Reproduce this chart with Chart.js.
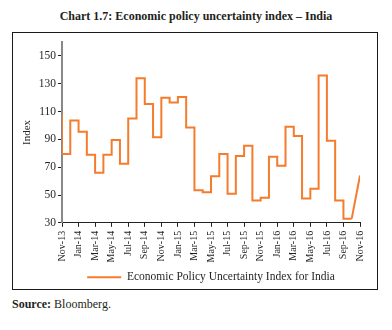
<!DOCTYPE html>
<html lang="en">
<head>
    <meta charset="UTF-8">
    <title>Economic policy uncertainty index - India</title>
    <script src="https://cdn.jsdelivr.net/npm/chart.js"></script>
    <style>
        body {
            margin: 0;
            background-color: #ffffff;
            color: #231f20;
            font-family: "Liberation Serif", serif;
        }
        #title {
            position: absolute;
            left: 0;
            top: 9px;
            width: 392px;
            text-align: center;
            font-weight: bold;
            font-size: 12px;
        }
        #frame {
            position: absolute;
            left: 12px;
            top: 32px;
            width: 366px;
            height: 258px;
            box-sizing: border-box;
            border: 1.5px solid #1a1a1a;
        }
        #chart {
            position: absolute;
            left: 0;
            top: 0;
        }
        #source {
            position: absolute;
            left: 12px;
            top: 297px;
            font-size: 12px;
        }
    </style>
</head>
<body>

    <div id="title">Chart 1.7: Economic policy uncertainty index – India</div>
    <div id="frame">
        <!-- canvas runs a little past the frame so the legend sits low -->
        <canvas id="chart" width="363" height="260"></canvas>
    </div>
    <div id="source"><b>Source:</b> Bloomberg.</div>

    <script>
        // monthly index values, Nov-13 .. Nov-16
        const months = [
            'Nov-13', 'Dec-13', 'Jan-14', 'Feb-14', 'Mar-14', 'Apr-14', 'May-14', 'Jun-14',
            'Jul-14', 'Aug-14', 'Sep-14', 'Oct-14', 'Nov-14', 'Dec-14', 'Jan-15', 'Feb-15',
            'Mar-15', 'Apr-15', 'May-15', 'Jun-15', 'Jul-15', 'Aug-15', 'Sep-15', 'Oct-15',
            'Nov-15', 'Dec-15', 'Jan-16', 'Feb-16', 'Mar-16', 'Apr-16', 'May-16', 'Jun-16',
            'Jul-16', 'Aug-16', 'Sep-16', 'Oct-16', 'Nov-16'
        ];
        const epuIndex = [
            108, 79.5, 103.5, 95.5, 79, 66, 79, 89.5,
            72.5, 105, 134, 115.5, 91.5, 120, 116.5, 120.5,
            98.5, 53.5, 52, 63.5, 79.5, 51, 78, 85.5,
            46, 48, 77.5, 71, 99, 92.5, 47.5, 54.5,
            136, 89, 46, 33, 64
        ];
        const yTicks = [30, 50, 70, 90, 110, 130, 150];

        const lineColor = '#f47c2c';
        const textColor = '#231f20';
        const serif = '"Liberation Serif", serif';

        const points = epuIndex.map((v, i) => ({ x: i, y: v }));

        new Chart(document.getElementById('chart'), {
            type: 'line',
            data: {
                datasets: [{
                    label: 'Economic Policy Uncertainty Index for India',
                    data: points.slice(0, points.length - 1),
                    borderColor: lineColor,
                    backgroundColor: lineColor,
                    borderWidth: 2,
                    pointRadius: 0,
                    stepped: 'after'
                }, {
                    // last month is joined with a plain segment
                    label: 'tail',
                    data: points.slice(points.length - 2),
                    borderColor: lineColor,
                    borderWidth: 2,
                    pointRadius: 0
                }]
            },
            options: {
                responsive: false,
                animation: false,
                layout: { padding: { top: 9, right: 7, left: 0, bottom: 0 } },
                plugins: {
                    tooltip: { enabled: false },
                    legend: {
                        position: 'bottom',
                        fullSize: false,
                        labels: {
                            color: textColor,
                            font: { family: serif, size: 11.5 },
                            boxWidth: 34,
                            boxHeight: 2,
                            padding: 5,
                            filter: item => item.datasetIndex === 0,
                            generateLabels: chart => Chart.defaults.plugins.legend.labels
                                .generateLabels(chart)
                                .map(item => Object.assign(item, { lineWidth: 0 }))
                        }
                    }
                },
                scales: {
                    x: {
                        type: 'linear',
                        min: 0,
                        max: months.length - 1,
                        border: { color: '#222', width: 1 },
                        grid: { drawOnChartArea: false, tickLength: 4, color: '#222' },
                        ticks: {
                            stepSize: 2,
                            autoSkip: false,
                            minRotation: 90,
                            maxRotation: 90,
                            padding: 4,
                            color: textColor,
                            font: { family: serif, size: 10 },
                            callback: v => months[v]
                        }
                    },
                    y: {
                        min: 30,
                        max: 160,
                        afterBuildTicks: axis => { axis.ticks = yTicks.map(v => ({ value: v })); },
                        afterFit: axis => { axis.width = 49; },
                        border: { color: '#888', width: 2 },
                        grid: { drawOnChartArea: false, tickLength: 4, color: '#222' },
                        ticks: {
                            padding: 2,
                            color: textColor,
                            font: { family: serif, size: 11.5 }
                        },
                        title: {
                            display: true,
                            text: 'Index',
                            color: textColor,
                            font: { family: serif, size: 11 },
                            padding: { top: 8, bottom: 0 }
                        }
                    }
                }
            }
        });
    </script>

</body>
</html>
